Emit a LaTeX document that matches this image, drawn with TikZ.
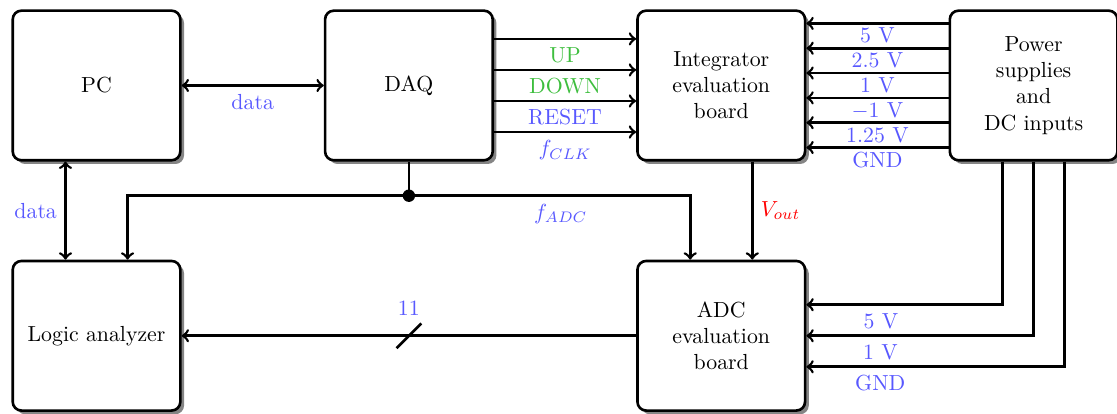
\documentclass[tikz,border=0pt]{standalone}
\usepackage{amsmath,amssymb}
\usepackage{tikz}
\usetikzlibrary{shapes,arrows,positioning,calc,shadows}
\usepackage{xcolor}
\definecolor{sigblue}{RGB}{88,88,255}
\definecolor{siggreen}{RGB}{62,190,62}

\begin{document}
\begin{tikzpicture}[
    block/.style={rectangle, draw, very thick, rounded corners, fill=white, minimum width=2.7cm, minimum height=2.41cm, align=center,
      drop shadow={shadow xshift=0.6mm, shadow yshift=-0.6mm, fill=black!60, opacity=0.8}},
    arrow/.style={->, very thick},
    doublearrow/.style={<->, very thick},
    lbl/.style={text=sigblue},
    volt/.style={text=sigblue, inner sep=1.5pt}
  ]
    \useasboundingbox (-1.555,1.377) rectangle (16.44,-5.292);

    \node[block] (pc) {PC};
    \node[block, right=2.29cm of pc] (daq) {DAQ};
    \node[block, right=2.29cm of daq] (integ) {Integrator\\evaluation\\board};
    \node[block, right=2.29cm of integ] (power) {Power\\supplies\\and\\DC inputs};
    \node[block, below=1.58cm of pc] (logic) {Logic analyzer};
    \node[block, below=1.58cm of integ] (adc) {ADC\\evaluation\\board};

    % data links
    \draw[doublearrow] (pc) -- node[below, lbl] {data} (daq);
    \draw[doublearrow] ([xshift=-0.5cm]pc.south) -- node[left, lbl] {data} ([xshift=-0.5cm]logic.north);

    % control signals DAQ -> integrator
    \foreach \dy/\lab/\col in {0.75/UP/siggreen, 0.25/DOWN/siggreen, -0.25/RESET/sigblue, -0.75/{$f_{CLK}$}/sigblue}
      \draw[arrow] ([yshift=\dy cm]daq.east) -- node[below, text=\col] {\lab} ([yshift=\dy cm]integ.west);

    % supplies -> integrator
    \foreach \dy/\lab in {1.0/5 V, 0.6/2.5 V, 0.2/1 V, -0.2/{$-1$ V}, -0.6/1.25 V, -1.0/GND}
      \draw[arrow] ([yshift=\dy cm]power.west) -- node[below, volt] {\lab} ([yshift=\dy cm]integ.east);

    % sampling clock
    \draw[very thick] (daq.south) -- ++(0,-0.55) coordinate (split);
    \fill (split) circle (0.1cm);
    \draw[arrow] (split) -| ([xshift=0.5cm]logic.north);
    \draw[arrow] (split) -| node[pos=0.27, below, lbl] {$f_{ADC}$} ([xshift=-0.5cm]adc.north);

    % analog output
    \draw[arrow] ([xshift=0.5cm]integ.south) -- node[right, text=red] {$V_{out}$} ([xshift=0.5cm]adc.north);

    % output bus
    \draw[arrow] (adc.west) -- coordinate[midway] (bus) (logic.east);
    \draw[very thick] ([shift={(-0.2,-0.2)}]bus) -- ([shift={(0.2,0.2)}]bus);
    \node[lbl, above=0.2cm of bus] (buswidth) {11};

    % supplies -> ADC
    \draw[arrow] ([xshift=-0.5cm]power.south) |- node[pos=0.81, below, lbl] {5 V} ([yshift=0.5cm]adc.east);
    \draw[arrow] (power.south) |- node[pos=0.837, below, lbl] {1 V} (adc.east);
    \draw[arrow] ([xshift=0.5cm]power.south) |- node[pos=0.857, below, lbl] {GND} ([yshift=-0.5cm]adc.east);
  \end{tikzpicture}
\end{document}
